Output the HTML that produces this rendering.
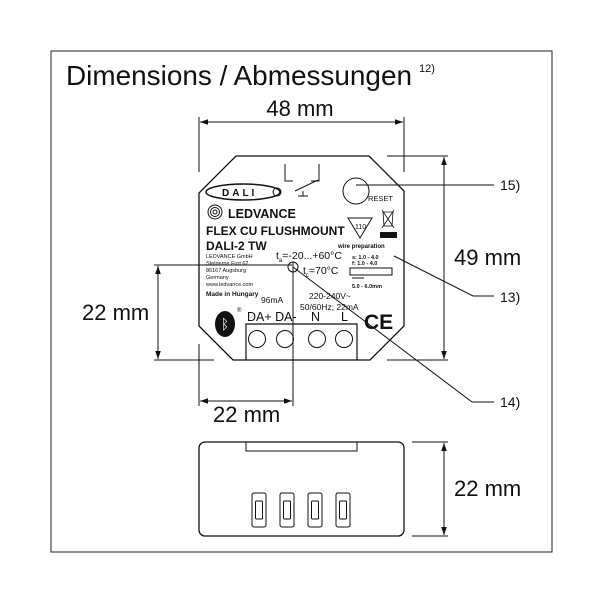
<!DOCTYPE html>
<html><head><meta charset="utf-8"><style>
html,body{margin:0;padding:0;background:#fff}
svg{display:block}
text{font-family:"Liberation Sans",sans-serif;fill:#111}
</style></head><body>
<svg width="600" height="600" viewBox="0 0 600 600" xmlns="http://www.w3.org/2000/svg">
<defs>
<marker id="a" viewBox="0 0 10 10" refX="10" refY="5" markerWidth="8" markerHeight="8" orient="auto-start-reverse"><path d="M0,1.5 L10,5 L0,8.5 Z" fill="#111"/></marker>
</defs>
<rect x="51" y="51" width="501" height="501" fill="none" stroke="#222" stroke-width="1"/>
<text x="66" y="85" font-size="28" textLength="346" lengthAdjust="spacingAndGlyphs">Dimensions / Abmessungen</text>
<text x="419" y="72" font-size="11">12)</text>

<g stroke="#111" stroke-width="1" fill="none">
<!-- 48mm -->
<line x1="199" y1="117" x2="199" y2="172"/><line x1="404" y1="117" x2="404" y2="172"/>
<line x1="200" y1="122" x2="403" y2="122" marker-start="url(#a)" marker-end="url(#a)"/>
<!-- 49mm -->
<line x1="387" y1="156" x2="448" y2="156"/><line x1="387" y1="360" x2="448" y2="360"/>
<line x1="444" y1="157" x2="444" y2="359" marker-start="url(#a)" marker-end="url(#a)"/>
<!-- left 22mm -->
<line x1="154" y1="265" x2="292" y2="265"/><line x1="154" y1="360" x2="214" y2="360"/>
<line x1="158" y1="266" x2="158" y2="359" marker-start="url(#a)" marker-end="url(#a)"/>
<!-- bottom 22mm -->
<line x1="199" y1="344" x2="199" y2="406"/><line x1="293" y1="262" x2="293" y2="406"/>
<line x1="200" y1="401" x2="292" y2="401" marker-start="url(#a)" marker-end="url(#a)"/>
<circle cx="293" cy="267" r="5"/>
<!-- body -->
<path d="M236,156 L369,156 L404,191 L404,326 L370,360 L233,360 L199,326 L199,193 Z" stroke-width="1.3"/>
<path d="M246,360 L246,324 L357,324 L357,360" stroke-width="1.2"/>
<circle cx="257" cy="339" r="8.5"/><circle cx="285" cy="339" r="8.5"/><circle cx="317" cy="339" r="8.5"/><circle cx="344" cy="339" r="8.5"/>
<!-- relay -->
<path d="M285,164 L285,181 L293,181 M319,164 L319,181 L311,181 M295,191 L318,180 M303,191 L303,196 M298,196 L308,196"/>
<!-- reset -->
<circle cx="356" cy="191" r="13"/>
<!-- leaders -->
<line x1="356" y1="185" x2="494" y2="185"/>
<polyline points="394,256 473,296 494,296"/>
<polyline points="293,267 472,402 494,402"/>
<!-- DALI logo -->
<ellipse cx="243" cy="192" rx="37" ry="8" stroke-width="1.5"/>
<circle cx="277" cy="192" r="4"/>
<!-- ledvance logo -->
<circle cx="215" cy="212" r="7"/><circle cx="215" cy="212" r="4.5"/><circle cx="215" cy="212" r="2"/>
<!-- triangle -->
<path d="M348,218 L372,218 L360,238 Z"/>
<path d="M382,210 L394,228 M394,210 L382,228 M383,212 L393,212 L392,226 L384,226 Z" stroke-width="0.8"/>
<rect x="350" y="268" width="42" height="7"/>
<line x1="352" y1="278" x2="364" y2="278"/>
<!-- lower view -->
<rect x="199" y="442" width="205" height="94" rx="6" stroke-width="1.3"/>
<path d="M246,442 L246,451 L357,451 L357,442"/>
<line x1="412" y1="442" x2="448" y2="442"/><line x1="412" y1="536" x2="448" y2="536"/>
<line x1="444" y1="443" x2="444" y2="535" marker-start="url(#a)" marker-end="url(#a)"/>
<rect x="252" y="493" width="14" height="34" rx="2"/><rect x="255.5" y="501" width="7" height="18" rx="1"/>
<rect x="280" y="493" width="14" height="34" rx="2"/><rect x="283.5" y="501" width="7" height="18" rx="1"/>
<rect x="308" y="493" width="14" height="34" rx="2"/><rect x="311.5" y="501" width="7" height="18" rx="1"/>
<rect x="336" y="493" width="14" height="34" rx="2"/><rect x="339.5" y="501" width="7" height="18" rx="1"/>
</g>
<rect x="380" y="232" width="17" height="6" fill="#111"/>
<ellipse cx="225" cy="324" rx="10" ry="13" fill="#111"/>
<text x="225" y="329" font-size="14" text-anchor="middle" style="fill:#fff">ᛒ</text>

<text x="300" y="116" font-size="22" text-anchor="middle">48 mm</text>
<text x="454" y="265" font-size="22">49 mm</text>
<text x="82" y="320" font-size="22">22 mm</text>
<text x="213" y="422" font-size="22">22 mm</text>
<text x="454" y="496" font-size="22">22 mm</text>
<text x="500" y="190" font-size="14">15)</text>
<text x="500" y="302" font-size="14">13)</text>
<text x="500" y="407" font-size="14">14)</text>

<text x="222" y="196" font-size="10" font-weight="bold" letter-spacing="3">DALI</text>
<text x="228" y="218" font-size="12.5" font-weight="bold">LEDVANCE</text>
<text x="206" y="235" font-size="12" font-weight="bold">FLEX CU FLUSHMOUNT</text>
<text x="206" y="250" font-size="12" font-weight="bold">DALI-2 TW</text>
<text x="206" y="258" font-size="5.5">LEDVANCE GmbH</text>
<text x="206" y="265" font-size="5.5">Steinerne Furt 62</text>
<text x="206" y="272" font-size="5.5">86167 Augsburg</text>
<text x="206" y="279" font-size="5.5">Germany</text>
<text x="206" y="286" font-size="5.5">www.ledvance.com</text>
<text x="206" y="296" font-size="6.5" font-weight="bold">Made in Hungary</text>
<text x="276" y="259" font-size="10.5">t<tspan font-size="6" dy="3">a</tspan><tspan dy="-3">=-20...+60°C</tspan></text>
<text x="303" y="274" font-size="10.5">t<tspan font-size="6" dy="3">c</tspan><tspan dy="-3">=70°C</tspan></text>
<text x="261" y="303" font-size="8.5">96mA</text>
<text x="309" y="299" font-size="8.5">220-240V~</text>
<text x="300" y="310" font-size="8.5">50/60Hz; 22mA</text>
<text x="237" y="312" font-size="6">®</text>
<text x="247" y="321" font-size="12.5">DA+ DA-  </text>
<text x="311" y="321" font-size="12.5">N</text>
<text x="341" y="321" font-size="12.5">L</text>
<text x="364" y="329" font-size="21" font-weight="bold">CE</text>
<text x="368" y="201" font-size="7.5">RESET</text>
<text x="355" y="229" font-size="7">110</text>
<text x="338" y="248" font-size="6" font-weight="bold">wire preparation</text>
<text x="352" y="259" font-size="5.5" font-weight="bold">s: 1.0 - 4.0</text>
<text x="352" y="265" font-size="5.5" font-weight="bold">f:  1.0 - 4.0</text>
<text x="352" y="288" font-size="5.5" font-weight="bold">5.0 - 6.0mm</text>
</svg>
</body></html>
